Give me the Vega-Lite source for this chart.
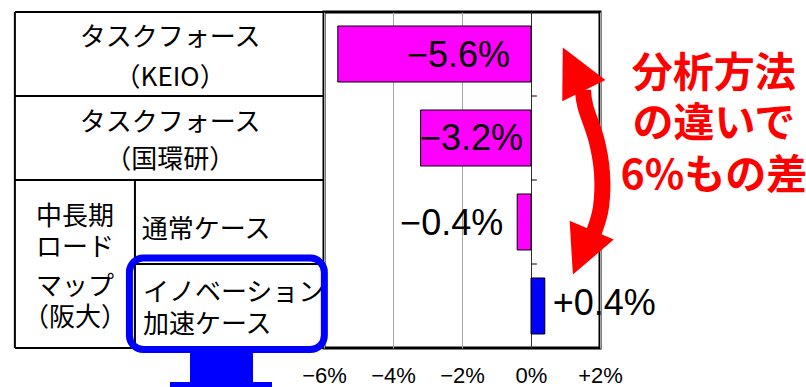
{
  "$schema": "https://vega.github.io/schema/vega-lite/v6.json",
  "width": 276,
  "height": 336,
  "autosize": {"type": "none"},
  "padding": {"left": 324, "top": 12, "right": 206, "bottom": 39},
  "background": "white",
  "config": {"view": {"stroke": "#000000", "strokeWidth": 3}, "font": "Noto Sans CJK JP"},
  "datasets": {
    "bars": [
      {"name": "タスクフォース（KEIO）", "value": -5.6, "label": "−5.6%"},
      {"name": "タスクフォース（国環研）", "value": -3.2, "label": "−3.2%"},
      {"name": "中長期ロードマップ（阪大）通常ケース", "value": -0.4, "label": "−0.4%"},
      {"name": "中長期ロードマップ（阪大）イノベーション加速ケース", "value": 0.4, "label": "+0.4%"}
    ],
    "tableLines": [
      {"x1": -14.96, "x2": -6, "y1": 0, "y2": 0},
      {"x1": -14.96, "x2": -6, "y1": 1, "y2": 1},
      {"x1": -14.96, "x2": -6, "y1": 2, "y2": 2},
      {"x1": -11.48, "x2": -6, "y1": 3, "y2": 3},
      {"x1": -14.96, "x2": -6, "y1": 4, "y2": 4},
      {"x1": -14.96, "x2": -14.96, "y1": 0, "y2": 4},
      {"x1": -11.48, "x2": -11.48, "y1": 2, "y2": 4}
    ],
    "tableTextCenter": [
      {"t": "タスクフォース", "x": -10.46, "y": 0.31},
      {"t": "（KEIO）", "x": -10.46, "y": 0.786},
      {"t": "タスクフォース", "x": -10.46, "y": 1.321},
      {"t": "（国環研）", "x": -10.46, "y": 1.762},
      {"t": "中長期", "x": -13.22, "y": 2.44},
      {"t": "ロード", "x": -13.22, "y": 2.81},
      {"t": "マップ", "x": -13.22, "y": 3.274},
      {"t": "（阪大）", "x": -13.22, "y": 3.643}
    ],
    "tableTextLeft": [
      {"t": "通常ケース", "x": -11.28, "y": 2.595},
      {"t": "イノベーション", "x": -11.25, "y": 3.345},
      {"t": "加速ケース", "x": -11.25, "y": 3.726}
    ],
    "zeroTicks": [{"y": 1}, {"y": 2}, {"y": 3}],
    "blueBox": [{"x1": -11.64, "x2": -5.99, "y1": 2.93, "y2": 4.018}],
    "blueShaft": [{"x1": -9.884, "x2": -8.058, "y1": 4.02, "y2": 4.8}],
    "blueHead": [{"x1": -10.464, "x2": -7.507, "y1": 4.405, "y2": 4.8}],
    "redBody": [
      {"i": 0, "x": 1.507, "y": 0.929},
      {"i": 1, "x": 1.58, "y": 1.131},
      {"i": 2, "x": 1.899, "y": 1.524},
      {"i": 3, "x": 2.058, "y": 1.917},
      {"i": 4, "x": 2.029, "y": 2.321},
      {"i": 5, "x": 1.826, "y": 2.619}
    ],
    "redHeadTop": [{"x": 1.226, "y": 0.679}],
    "redHeadBottom": [{"x": 1.487, "y": 2.861}],
    "redText": [
      {"t": "分析方法", "x": 5.3, "y": 0.75},
      {"t": "の違いで", "x": 5.3, "y": 1.345},
      {"t": "6%もの差", "x": 5.3, "y": 1.964}
    ]
  },
  "layer": [
    {
      "data": {"name": "bars"},
      "mark": {"type": "bar", "stroke": "#000000", "strokeWidth": 1},
      "encoding": {
        "x": {
          "field": "value", "type": "quantitative",
          "scale": {"domain": [-6, 2], "nice": false, "zero": false},
          "axis": {
            "values": [-6, -4, -2, 0, 2], "title": null, "domain": false, "ticks": false,
            "labelFont": "Liberation Sans", "labelFontSize": 22, "labelColor": "#000000",
            "labelPadding": 17, "labelFlush": false, "labelOverlap": false,
            "grid": true, "gridWidth": 1,
            "gridColor": {"condition": {"test": "datum.value === 0", "value": "#303030"}, "value": "#a6a6a6"},
            "labelExpr": "datum.value > 0 ? '+' + datum.value + '%' : (datum.value < 0 ? '−' + abs(datum.value) + '%' : '0%')"
          }
        },
        "x2": {"datum": 0},
        "y": {
          "field": "name", "type": "nominal", "sort": null, "axis": null,
          "scale": {"paddingInner": 0.3333, "paddingOuter": 0.1667}
        },
        "color": {
          "field": "name", "type": "nominal", "legend": null, "sort": null,
          "scale": {"range": ["#ff00ff", "#ff00ff", "#ff00ff", "#0000ff"]}
        }
      }
    },
    {
      "data": {"name": "bars"},
      "transform": [{"filter": "datum.value === -5.6"}],
      "mark": {"type": "text", "font": "Liberation Sans", "fontSize": 36, "align": "right", "baseline": "middle", "dx": -21, "dy": 2, "color": "#000000"},
      "encoding": {
        "x": {"datum": 0, "type": "quantitative"},
        "y": {"field": "name", "type": "nominal", "sort": null, "axis": null,
          "scale": {"domain": ["タスクフォース（KEIO）", "タスクフォース（国環研）", "中長期ロードマップ（阪大）通常ケース", "中長期ロードマップ（阪大）イノベーション加速ケース"], "paddingInner": 0.3333, "paddingOuter": 0.1667}},
        "text": {"field": "label"}
      }
    },
    {
      "data": {"name": "bars"},
      "transform": [{"filter": "datum.value === -3.2"}],
      "mark": {"type": "text", "font": "Liberation Sans", "fontSize": 36, "align": "right", "baseline": "middle", "dx": -8, "dy": 1, "color": "#000000"},
      "encoding": {
        "x": {"datum": 0, "type": "quantitative"},
        "y": {"field": "name", "type": "nominal", "sort": null, "axis": null,
          "scale": {"domain": ["タスクフォース（KEIO）", "タスクフォース（国環研）", "中長期ロードマップ（阪大）通常ケース", "中長期ロードマップ（阪大）イノベーション加速ケース"], "paddingInner": 0.3333, "paddingOuter": 0.1667}},
        "text": {"field": "label"}
      }
    },
    {
      "data": {"name": "bars"},
      "transform": [{"filter": "datum.value === -0.4"}],
      "mark": {"type": "text", "font": "Liberation Sans", "fontSize": 36, "align": "right", "baseline": "middle", "dx": -14, "dy": 2, "color": "#000000"},
      "encoding": {
        "x": {"field": "value", "type": "quantitative"},
        "y": {"field": "name", "type": "nominal", "sort": null, "axis": null,
          "scale": {"domain": ["タスクフォース（KEIO）", "タスクフォース（国環研）", "中長期ロードマップ（阪大）通常ケース", "中長期ロードマップ（阪大）イノベーション加速ケース"], "paddingInner": 0.3333, "paddingOuter": 0.1667}},
        "text": {"field": "label"}
      }
    },
    {
      "data": {"name": "bars"},
      "transform": [{"filter": "datum.value === 0.4"}],
      "mark": {"type": "text", "font": "Liberation Sans", "fontSize": 36, "align": "left", "baseline": "middle", "dx": 8, "dy": -2, "color": "#000000"},
      "encoding": {
        "x": {"field": "value", "type": "quantitative"},
        "y": {"field": "name", "type": "nominal", "sort": null, "axis": null,
          "scale": {"domain": ["タスクフォース（KEIO）", "タスクフォース（国環研）", "中長期ロードマップ（阪大）通常ケース", "中長期ロードマップ（阪大）イノベーション加速ケース"], "paddingInner": 0.3333, "paddingOuter": 0.1667}},
        "text": {"field": "label"}
      }
    },
    {
      "data": {"name": "tableLines"},
      "mark": {"type": "rule", "color": "#000000", "strokeWidth": 2},
      "encoding": {
        "x": {"field": "x1", "type": "quantitative"},
        "x2": {"field": "x2"},
        "y": {"field": "y1", "type": "quantitative", "scale": {"domain": [0, 4], "nice": false, "zero": false, "reverse": true}, "axis": null},
        "y2": {"field": "y2"}
      }
    },
    {
      "data": {"name": "tableTextCenter"},
      "mark": {"type": "text", "fontSize": 26, "align": "center", "baseline": "middle", "color": "#000000"},
      "encoding": {
        "x": {"field": "x", "type": "quantitative"},
        "y": {"field": "y", "type": "quantitative", "scale": {"domain": [0, 4], "nice": false, "zero": false, "reverse": true}, "axis": null},
        "text": {"field": "t"}
      }
    },
    {
      "data": {"name": "tableTextLeft"},
      "mark": {"type": "text", "fontSize": 26, "align": "left", "baseline": "middle", "color": "#000000"},
      "encoding": {
        "x": {"field": "x", "type": "quantitative"},
        "y": {"field": "y", "type": "quantitative", "scale": {"domain": [0, 4], "nice": false, "zero": false, "reverse": true}, "axis": null},
        "text": {"field": "t"}
      }
    },
    {
      "data": {"name": "zeroTicks"},
      "mark": {"type": "rule", "color": "#000000", "strokeWidth": 1},
      "encoding": {
        "x": {"datum": 0, "type": "quantitative"},
        "x2": {"datum": 0.17},
        "y": {"field": "y", "type": "quantitative", "scale": {"domain": [0, 4], "nice": false, "zero": false, "reverse": true}, "axis": null}
      }
    },
    {
      "data": {"name": "blueBox"},
      "mark": {"type": "rect", "filled": false, "stroke": "#0000ff", "strokeWidth": 7, "cornerRadius": 14},
      "encoding": {
        "x": {"field": "x1", "type": "quantitative"},
        "x2": {"field": "x2"},
        "y": {"field": "y1", "type": "quantitative", "scale": {"domain": [0, 4], "nice": false, "zero": false, "reverse": true}, "axis": null},
        "y2": {"field": "y2"}
      }
    },
    {
      "data": {"name": "blueShaft"},
      "mark": {"type": "rect", "color": "#0000ff"},
      "encoding": {
        "x": {"field": "x1", "type": "quantitative"},
        "x2": {"field": "x2"},
        "y": {"field": "y1", "type": "quantitative", "scale": {"domain": [0, 4], "nice": false, "zero": false, "reverse": true}, "axis": null},
        "y2": {"field": "y2"}
      }
    },
    {
      "data": {"name": "blueHead"},
      "mark": {"type": "rect", "color": "#0000ff"},
      "encoding": {
        "x": {"field": "x1", "type": "quantitative"},
        "x2": {"field": "x2"},
        "y": {"field": "y1", "type": "quantitative", "scale": {"domain": [0, 4], "nice": false, "zero": false, "reverse": true}, "axis": null},
        "y2": {"field": "y2"}
      }
    },
    {
      "data": {"name": "redBody"},
      "mark": {"type": "line", "color": "#ff0000", "strokeWidth": 16, "interpolate": "cardinal", "strokeCap": "butt"},
      "encoding": {
        "x": {"field": "x", "type": "quantitative"},
        "y": {"field": "y", "type": "quantitative", "scale": {"domain": [0, 4], "nice": false, "zero": false, "reverse": true}, "axis": null},
        "order": {"field": "i", "type": "quantitative"}
      }
    },
    {
      "data": {"name": "redHeadTop"},
      "mark": {"type": "point", "shape": "M0,-1L1,1L-1,1Z", "filled": true, "color": "#ff0000", "opacity": 1, "size": 2304, "angle": -26},
      "encoding": {
        "x": {"field": "x", "type": "quantitative"},
        "y": {"field": "y", "type": "quantitative", "scale": {"domain": [0, 4], "nice": false, "zero": false, "reverse": true}, "axis": null}
      }
    },
    {
      "data": {"name": "redHeadBottom"},
      "mark": {"type": "point", "shape": "M0,-1L1,1L-1,1Z", "filled": true, "color": "#ff0000", "opacity": 1, "size": 2304, "angle": 203},
      "encoding": {
        "x": {"field": "x", "type": "quantitative"},
        "y": {"field": "y", "type": "quantitative", "scale": {"domain": [0, 4], "nice": false, "zero": false, "reverse": true}, "axis": null}
      }
    },
    {
      "data": {"name": "redText"},
      "mark": {"type": "text", "fontSize": 41, "fontWeight": "bold", "align": "center", "baseline": "middle", "color": "#ff0000"},
      "encoding": {
        "x": {"field": "x", "type": "quantitative"},
        "y": {"field": "y", "type": "quantitative", "scale": {"domain": [0, 4], "nice": false, "zero": false, "reverse": true}, "axis": null},
        "text": {"field": "t"}
      }
    }
  ],
  "resolve": {"scale": {"y": "independent"}, "axis": {"x": "shared"}}
}
